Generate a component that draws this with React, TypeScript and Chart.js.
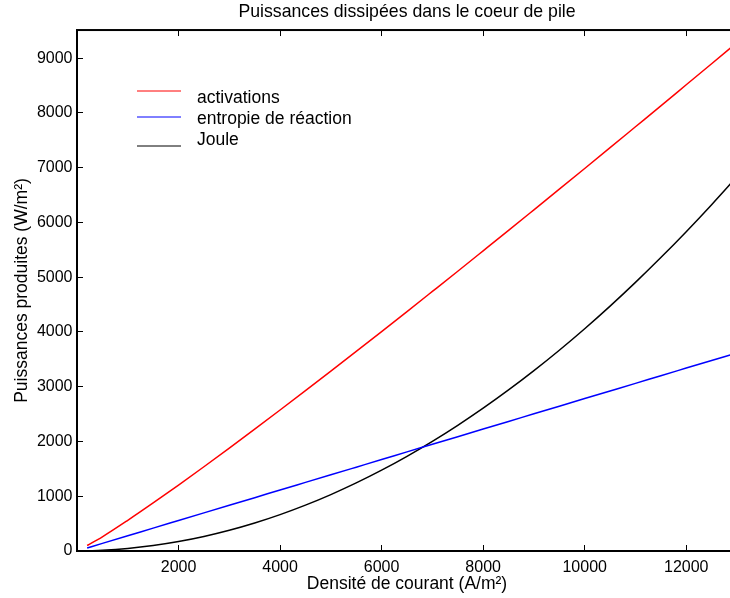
import React, { useEffect, useRef } from 'react';
import { Chart, registerables } from 'chart.js';

Chart.register(...registerables);

// ---- data ----
const currentDensity = [200, 500, 1000, 1500, 2000, 2500, 3000, 3500, 4000, 4500, 5000, 5500, 6000, 6500, 7000, 7500, 8000, 8500, 9000, 9500, 10000, 10500, 11000, 11500, 12000, 12500, 13000];
const activations = [100, 259, 560, 877, 1204, 1539, 1879, 2225, 2575, 2928, 3285, 3645, 4008, 4373, 4741, 5110, 5482, 5855, 6231, 6608, 6986, 7366, 7748, 8130, 8515, 8900, 9287];
const entropie = [56, 139, 278, 418, 557, 696, 835, 974, 1114, 1253, 1392, 1531, 1670, 1810, 1949, 2088, 2227, 2366, 2506, 2645, 2784, 2923, 3062, 3202, 3341, 3480, 3619];
const joule = [3, 13, 46, 99, 172, 265, 378, 511, 664, 837, 1030, 1243, 1476, 1729, 2002, 2295, 2608, 2941, 3294, 3667, 4060, 4473, 4906, 5359, 5832, 6325, 6838];

const xTicks = [2000, 4000, 6000, 8000, 10000, 12000];
const yTicks = [0, 1000, 2000, 3000, 4000, 5000, 6000, 7000, 8000, 9000];
const xRange = [0, 13000];
const yRange = [0, 9515];

const seriesLabels = ['activations', 'entropie de réaction', 'Joule'];
const seriesColors = ['#ff0000', '#0000ff', '#000000'];
const seriesValues = [activations, entropie, joule];

const titleText = 'Puissances dissipées dans le coeur de pile';
const xTitle = 'Densité de courant (A/m²)';
const yTitle = 'Puissances produites (W/m²)';

const FONT = "'Liberation Sans', Arial, Helvetica, sans-serif";

const framePlugin = {
  id: 'matlabFrame',
  afterDraw(chart: any) {
    const { ctx, chartArea: a, scales } = chart;
    const xs = scales.x;
    const ys = scales.y;
    ctx.save();
    ctx.strokeStyle = '#000';
    ctx.lineWidth = 1;
    ctx.beginPath();
    for (const t of xTicks) {
      const px = Math.floor(xs.getPixelForValue(t)) + 0.5;
      ctx.moveTo(px, a.bottom);
      ctx.lineTo(px, a.bottom - 6);
      ctx.moveTo(px, a.top);
      ctx.lineTo(px, a.top + 6);
    }
    for (const t of yTicks) {
      const py = Math.floor(ys.getPixelForValue(t)) + 0.5;
      ctx.moveTo(a.left, py);
      ctx.lineTo(a.left + 6, py);
      ctx.moveTo(a.right, py);
      ctx.lineTo(a.right - 6, py);
    }
    ctx.stroke();
    ctx.lineWidth = 2;
    ctx.strokeRect(a.left, a.top, a.right - a.left, a.bottom - a.top);

    // legend (MATLAB-style, inside the axes, no box)
    const lineY = [91, 117, 146];
    const textY = [103, 124, 145];
    ctx.font = `17.5px ${FONT}`;
    ctx.textBaseline = 'alphabetic';
    ctx.textAlign = 'left';
    seriesLabels.forEach((lab, i) => {
      ctx.strokeStyle = seriesColors[i];
      ctx.lineWidth = 1;
      ctx.beginPath();
      ctx.moveTo(137, lineY[i]);
      ctx.lineTo(181, lineY[i]);
      ctx.stroke();
      ctx.fillStyle = '#000';
      ctx.fillText(lab, 197, textY[i]);
    });
    ctx.restore();
  },
};

export default function App() {
  const ref = useRef<HTMLCanvasElement | null>(null);

  useEffect(() => {
    if (!ref.current) return;
    const chart = new Chart(ref.current, {
      type: 'line',
      data: {
        datasets: seriesLabels.map((lab, i) => ({
          label: lab,
          data: currentDensity.map((x, j) => ({ x, y: seriesValues[i][j] })),
          borderColor: seriesColors[i],
          backgroundColor: seriesColors[i],
          borderWidth: 1.5,
          pointRadius: 0,
          fill: false,
          cubicInterpolationMode: 'monotone' as const,
        })),
      },
      options: {
        animation: false,
        responsive: false,
        devicePixelRatio: 1,
        layout: { padding: { top: 0, left: 0, right: 8, bottom: 0 } },
        plugins: {
          legend: { display: false },
          tooltip: { enabled: false },
          title: {
            display: true,
            text: titleText,
            fullSize: false,
            color: '#000',
            font: { family: FONT, size: 17.7, weight: 'normal' as const },
            padding: { top: 1.8, bottom: 7 },
          },
        },
        scales: {
          x: {
            type: 'linear',
            min: xRange[0],
            max: xRange[1],
            grid: { display: false, drawTicks: false },
            border: { display: false },
            ticks: {
              color: '#000',
              font: { family: FONT, size: 16 },
              padding: 6.8,
              maxRotation: 0,
              callback: (v: any) => String(v),
            },
            afterBuildTicks: (s: any) => {
              s.ticks = xTicks.map((v) => ({ value: v }));
            },
            afterFit: (s: any) => {
              s.height = 47;
            },
            title: {
              display: true,
              text: xTitle,
              color: '#000',
              font: { family: FONT, size: 17.5 },
              padding: { top: 0, bottom: 3.6 },
            },
          },
          y: {
            type: 'linear',
            min: yRange[0],
            max: yRange[1],
            grid: { display: false, drawTicks: false },
            border: { display: false },
            ticks: {
              color: '#000',
              font: { family: FONT, size: 16 },
              padding: 4.5,
              callback: (v: any) => String(v),
            },
            afterBuildTicks: (s: any) => {
              s.ticks = yTicks.map((v) => ({ value: v }));
            },
            afterFit: (s: any) => {
              s.width = 77;
            },
            title: {
              display: true,
              text: yTitle,
              color: '#000',
              font: { family: FONT, size: 17.5 },
              padding: { top: 11.7, bottom: 0 },
            },
          },
        },
      },
      plugins: [framePlugin],
    } as any);
    return () => chart.destroy();
  }, []);

  return (
    <div style={{ position: 'absolute', left: 0, top: 0, width: 730, height: 598, overflow: 'hidden', background: '#fff' }}>
      <canvas ref={ref} width={745} height={598} style={{ display: 'block', width: 745, height: 598 }} />
    </div>
  );
}
